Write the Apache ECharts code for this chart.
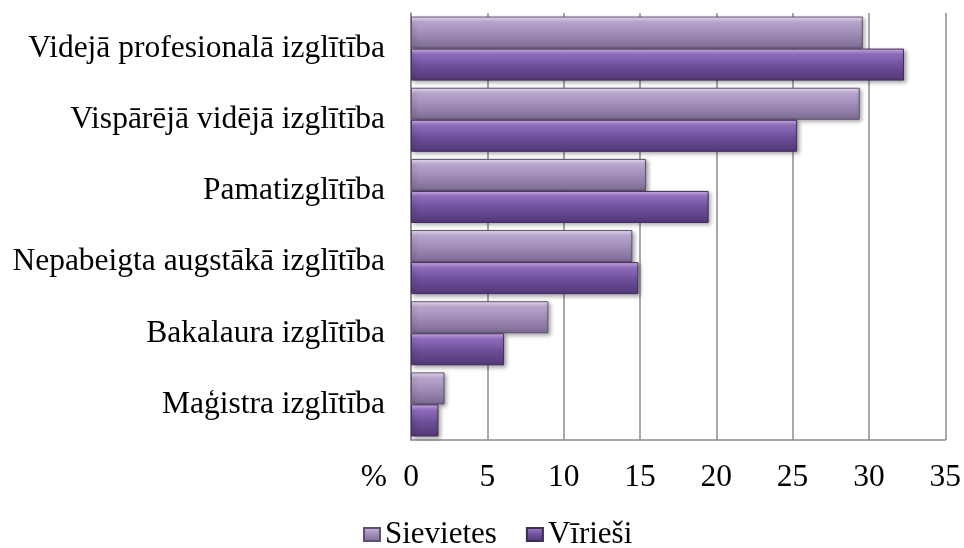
<!DOCTYPE html>
<html>
<head>
    <meta charset="utf-8">
    <title>Izglītība</title>
    <script src="https://cdn.jsdelivr.net/npm/echarts@6/dist/echarts.min.js"></script>
    <style>
        body { margin: 0; background: #fff; }
    </style>
</head>
<body>
<div id="chart" style="width: 964px; height: 548px;"></div>
<script>
    // kategorijas (no augšas uz leju)
    var categories = [
        'Videjā profesionalā izglītība',
        'Vispārējā vidējā izglītība',
        'Pamatizglītība',
        'Nepabeigta augstākā izglītība',
        'Bakalaura izglītība',
        'Maģistra izglītība'
    ];
    var sievietes = [29.6, 29.4, 15.4, 14.5, 9.0, 2.2];
    var viriesi = [32.3, 25.3, 19.5, 14.9, 6.1, 1.8];

    var font = '"Liberation Serif", "Times New Roman", serif';
    var fs = 31.5;

    function bevel(top, light, mid, bottom) {
        return new echarts.graphic.LinearGradient(0, 0, 0, 1, [
            { offset: 0, color: top },
            { offset: 0.18, color: light },
            { offset: 0.55, color: mid },
            { offset: 1, color: bottom }
        ]);
    }

    var chart = echarts.init(document.getElementById('chart'));

    var option = {
        animation: false,
        textStyle: { fontFamily: font, color: '#000' },
        grid: { left: 411, right: 18, top: 13, bottom: 108, containLabel: false },
        // mērvienība pa kreisi no ass skaitļiem
        graphic: [{
            type: 'text',
            right: 964 - 387,
            top: 462,
            style: { text: '%', font: fs + 'px ' + font, fill: '#000' }
        }],
        legend: {
            top: 514,
            left: 358,
            itemWidth: 16,
            itemHeight: 13,
            itemGap: 29,
            icon: 'rect',
            textStyle: { fontFamily: font, fontSize: 31, color: '#000' },
            data: ['Sievietes', 'Vīrieši']
        },
        xAxis: {
            type: 'value',
            min: 0,
            max: 35,
            interval: 5,
            axisLine: { show: true, lineStyle: { color: '#8c8c8c', width: 1.5 } },
            axisTick: { show: false },
            axisLabel: { fontFamily: font, fontSize: fs, color: '#000', margin: 22 },
            splitLine: { show: true, lineStyle: { color: '#8c8c8c', width: 1.5 } }
        },
        yAxis: {
            type: 'category',
            inverse: true,
            data: categories,
            axisLine: { show: true, lineStyle: { color: '#8c8c8c', width: 1.5 } },
            axisTick: { show: false },
            axisLabel: { fontFamily: font, fontSize: fs, color: '#000', margin: 26 }
        },
        series: [
            {
                name: 'Sievietes',
                type: 'bar',
                data: sievietes,
                barGap: '0%',
                barCategoryGap: '10%',
                itemStyle: {
                    color: bevel('#f6eaff', '#b9a6cf', '#9e8bb5', '#7c6a92'),
                    borderColor: '#5e5070',
                    borderWidth: 1,
                    shadowBlur: 4,
                    shadowColor: 'rgba(0,0,0,0.35)',
                    shadowOffsetX: 2,
                    shadowOffsetY: 2
                }
            },
            {
                name: 'Vīrieši',
                type: 'bar',
                data: viriesi,
                itemStyle: {
                    color: bevel('#d9b6f7', '#8f6dbd', '#6b4e98', '#533877'),
                    borderColor: '#3e2d55',
                    borderWidth: 1,
                    shadowBlur: 4,
                    shadowColor: 'rgba(0,0,0,0.35)',
                    shadowOffsetX: 2,
                    shadowOffsetY: 2
                }
            }
        ]
    };

    chart.setOption(option);
</script>
</body>
</html>
